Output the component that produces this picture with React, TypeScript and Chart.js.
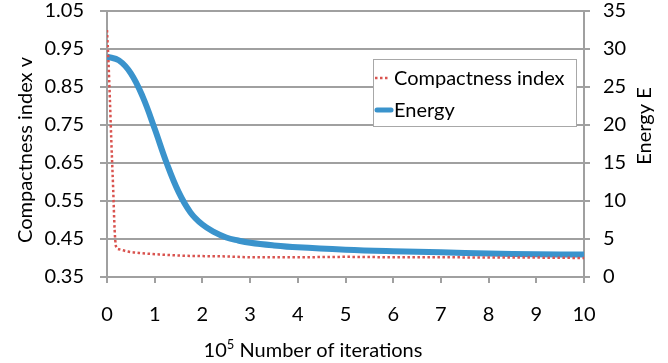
import React, { useEffect, useRef } from "react";
import { Chart, registerables } from "chart.js";

Chart.register(...registerables);

// Compactness index (left axis)
const compactX = [0, 0.03, 0.06, 0.09, 0.13, 0.16, 0.19, 0.25, 0.44, 0.7, 1.14, 1.6, 2.54, 3, 4, 5, 6, 7, 8, 9, 10];
const compactY = [1.0, 0.92, 0.82, 0.71, 0.58, 0.474, 0.43, 0.423, 0.417, 0.413, 0.409, 0.406, 0.404, 0.402, 0.402, 0.403, 0.402, 0.402, 0.401, 0.401, 0.4];

// Energy (right axis)
const energyX = [0, 0.25, 0.5, 0.75, 1, 1.25, 1.5, 1.75, 2, 2.25, 2.5, 2.75, 3, 3.5, 4, 5, 6, 7, 8, 9, 10];
const energyY = [29, 28.5, 26.8, 23.7, 19.5, 15.0, 11.2, 8.5, 6.9, 5.9, 5.2, 4.8, 4.5, 4.15, 3.9, 3.6, 3.4, 3.25, 3.1, 3.0, 2.95];

const leftTicks = [0.35, 0.45, 0.55, 0.65, 0.75, 0.85, 0.95, 1.05];
const rightTicks = [0, 5, 10, 15, 20, 25, 30, 35];
const xTicks = [0, 1, 2, 3, 4, 5, 6, 7, 8, 9, 10];

const seriesNames = ["Compactness index", "Energy"];
const leftTitle = "Compactness index v";
const rightTitle = "Energy E";
const xTitleBase = "10";
const xTitleSup = "5";
const xTitleRest = " Number of iterations";

const FONT = "Lato, 'Liberation Sans', sans-serif";
const RED = "#d9534f";
const BLUE = "#3a93cc";
const GRID = "#a0a0a0";
const TEXT = "#000";

const overlayPlugin = {
  id: "overlay",
  afterDraw(chart: any) {
    const ctx = chart.ctx as CanvasRenderingContext2D;
    ctx.save();
    // legend
    const lx = 373, ly = 59, lw = 203, lh = 67;
    ctx.fillStyle = "#ffffff";
    ctx.fillRect(lx, ly, lw, lh);
    ctx.strokeStyle = "#a8a8a8";
    ctx.lineWidth = 1;
    ctx.strokeRect(lx + 0.5, ly + 0.5, lw, lh);
    ctx.font = `20px ${FONT}`;
    ctx.fillStyle = TEXT;
    ctx.textBaseline = "middle";
    ctx.textAlign = "left";
    // red dotted sample
    ctx.strokeStyle = RED;
    ctx.lineWidth = 2.5;
    ctx.setLineDash([2.5, 2.5]);
    ctx.beginPath();
    ctx.moveTo(375, 78);
    ctx.lineTo(390, 78);
    ctx.stroke();
    ctx.setLineDash([]);
    ctx.fillText(seriesNames[0], 394, 79);
    ctx.strokeStyle = BLUE;
    ctx.lineWidth = 5;
    ctx.lineCap = "round";
    ctx.beginPath();
    ctx.moveTo(377, 110);
    ctx.lineTo(391, 110);
    ctx.stroke();
    ctx.fillText(seriesNames[1], 394, 111);

    // left title
    ctx.save();
    ctx.translate(26, 150);
    ctx.rotate(-Math.PI / 2);
    ctx.textAlign = "center";
    ctx.font = `20px ${FONT}`;
    ctx.fillText(leftTitle, 0, 0);
    ctx.restore();
    // right title
    ctx.save();
    ctx.translate(645, 126);
    ctx.rotate(-Math.PI / 2);
    ctx.textAlign = "center";
    ctx.font = `20px ${FONT}`;
    ctx.fillText(rightTitle, 0, 0);
    ctx.restore();

    // x title with superscript
    ctx.textBaseline = "alphabetic";
    ctx.textAlign = "left";
    ctx.font = `20px ${FONT}`;
    const w1 = ctx.measureText(xTitleBase).width;
    const w3 = ctx.measureText(xTitleRest).width;
    ctx.font = `13px ${FONT}`;
    const w2 = ctx.measureText(xTitleSup).width;
    const total = w1 + w2 + w3;
    let x = 313 - total / 2;
    const base = 357;
    ctx.font = `20px ${FONT}`;
    ctx.fillText(xTitleBase, x, base);
    x += w1;
    ctx.font = `13px ${FONT}`;
    ctx.fillText(xTitleSup, x, base - 8);
    x += w2;
    ctx.font = `20px ${FONT}`;
    ctx.fillText(xTitleRest, x, base);
    ctx.restore();
  },
};

export default function App() {
  const ref = useRef<HTMLCanvasElement | null>(null);
  useEffect(() => {
    document.body.style.margin = "0";
    const canvas = ref.current!;
    const chart = new Chart(canvas, {
      type: "line",
      data: {
        datasets: [
          {
            label: seriesNames[0],
            data: compactX.map((x, i) => ({ x, y: compactY[i] })),
            yAxisID: "y",
            borderColor: RED,
            borderWidth: 2.5,
            borderDash: [2.5, 2.5],
            pointRadius: 0,
            cubicInterpolationMode: "monotone",
            fill: false,
            order: 1,
          },
          {
            label: seriesNames[1],
            data: energyX.map((x, i) => ({ x, y: energyY[i] })),
            yAxisID: "y2",
            borderColor: BLUE,
            borderWidth: 6,
            pointRadius: 0,
            tension: 0.4,
            fill: false,
            order: 2,
          },
        ],
      },
      options: {
        responsive: false,
        animation: false,
        devicePixelRatio: 1,
        layout: { padding: 0 },
        plugins: { legend: { display: false }, tooltip: { enabled: false }, title: { display: false } },
        scales: {
          x: {
            type: "linear",
            min: 0,
            max: 10,
            afterBuildTicks: (s: any) => {
              s.ticks = xTicks.map((v) => ({ value: v }));
            },
            afterFit: (s: any) => {
              s.height = 86;
              s.paddingLeft = 0;
              s.paddingRight = 0;
            },
            grid: { drawOnChartArea: false, drawTicks: true, tickLength: 6, color: GRID, lineWidth: 2 },
            border: { display: false },
            ticks: {
              padding: 20,
              color: TEXT,
              font: { family: FONT, size: 20 },
              maxRotation: 0,
              autoSkip: false,
            },
          },
          y: {
            type: "linear",
            position: "left",
            min: 0.35,
            max: 1.05,
            afterBuildTicks: (s: any) => {
              s.ticks = leftTicks.map((v) => ({ value: v }));
            },
            afterFit: (s: any) => {
              s.width = 107;
              s.paddingTop = 11;
              s.paddingBottom = 0;
            },
            grid: { drawOnChartArea: true, drawTicks: true, tickLength: 7, color: GRID, lineWidth: 2 },
            border: { display: true, color: GRID, width: 2 },
            ticks: {
              padding: 16,
              color: TEXT,
              font: { family: FONT, size: 20 },
              callback: (v: any) => Number(v).toFixed(2),
            },
          },
          y2: {
            type: "linear",
            position: "right",
            min: 0,
            max: 35,
            afterBuildTicks: (s: any) => {
              s.ticks = rightTicks.map((v) => ({ value: v }));
            },
            afterFit: (s: any) => {
              s.width = 84;
              s.paddingTop = 11;
              s.paddingBottom = 0;
            },
            grid: { drawOnChartArea: false, drawTicks: true, tickLength: 6, color: GRID, lineWidth: 2 },
            border: { display: true, color: GRID, width: 2 },
            ticks: {
              padding: 13,
              color: TEXT,
              font: { family: FONT, size: 20 },
            },
          },
        },
      },
      plugins: [overlayPlugin],
    } as any);
    return () => chart.destroy();
  }, []);
  return <canvas ref={ref} width={668} height={363} style={{ display: "block" }} />;
}
